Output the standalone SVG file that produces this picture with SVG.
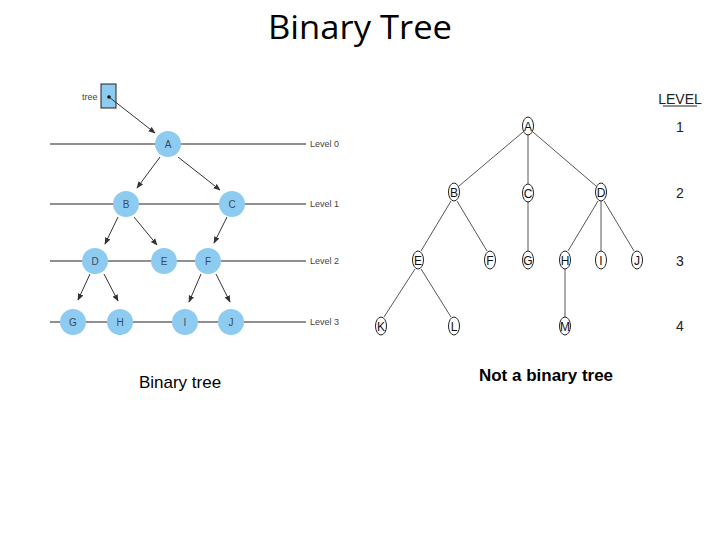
<svg xmlns="http://www.w3.org/2000/svg" width="720" height="540" viewBox="0 0 720 540">
<defs>
<marker id="ah" viewBox="0 0 10 10" refX="9" refY="5" markerWidth="7" markerHeight="7" orient="auto-start-reverse" markerUnits="userSpaceOnUse">
<path d="M0,1 L10,5 L0,9 z" fill="#333"/>
</marker>
<style>
.lvl{stroke:#222;stroke-width:1.2}
.lt{font-family:"Liberation Sans Narrow","Liberation Sans",sans-serif;font-size:9px;fill:#444}
.bn circle{fill:#8ecbf0}
.bn text{font-family:"Liberation Sans Narrow","Liberation Sans",sans-serif;font-size:10px;fill:#3a4a5a;text-anchor:middle}
.arr{stroke:#333;stroke-width:1;fill:none;marker-end:url(#ah)}
.rn ellipse{fill:#fff;stroke:#222;stroke-width:1}
.rn text{font-family:"Liberation Sans Narrow","Liberation Sans",sans-serif;font-size:12px;fill:#111;text-anchor:middle}
.ed{stroke:#444;stroke-width:0.9;fill:none}
.rl{font-family:"Liberation Sans Narrow","Liberation Sans",sans-serif;font-size:14px;fill:#222;text-anchor:middle}
</style>
</defs>
<rect width="720" height="540" fill="#fff"/>
<text x="360" y="39" font-family="'Open Sans','Liberation Sans',sans-serif" font-size="33" fill="#000" text-anchor="middle" textLength="184" lengthAdjust="spacingAndGlyphs">Binary Tree</text>

<g id="levels">
<line class="lvl" x1="50" y1="144" x2="306" y2="144"/>
<line class="lvl" x1="50" y1="204" x2="306" y2="204"/>
<line class="lvl" x1="50" y1="261" x2="306" y2="261"/>
<line class="lvl" x1="50" y1="322" x2="306" y2="322" stroke-width="2.2"/>
<text class="lt" x="310" y="147">Level 0</text>
<text class="lt" x="310" y="207">Level 1</text>
<text class="lt" x="310" y="264">Level 2</text>
<text class="lt" x="310" y="325">Level 3</text>
</g>

<g id="tree-ptr">
<text class="lt" x="82" y="100">tree</text>
<rect x="101" y="84" width="15" height="24" fill="#8ecbf0" stroke="#222" stroke-width="1"/>
<circle cx="109" cy="97" r="1.8" fill="#111"/>
</g>

<g id="connectors-left">
<line class="arr" x1="109" y1="97" x2="155" y2="133"/>
<line class="arr" x1="160" y1="157" x2="137" y2="188"/>
<line class="arr" x1="178" y1="157" x2="220" y2="190"/>
<line class="arr" x1="118" y1="217" x2="105" y2="244"/>
<line class="arr" x1="134" y1="217" x2="157" y2="245"/>
<line class="arr" x1="227" y1="217" x2="214" y2="243"/>
<line class="arr" x1="90" y1="274" x2="78" y2="300"/>
<line class="arr" x1="104" y1="274" x2="118" y2="301"/>
<line class="arr" x1="201" y1="274" x2="189" y2="302"/>
<line class="arr" x1="216" y1="274" x2="230" y2="302"/>
</g>

<g id="nA" class="bn"><circle cx="168" cy="144" r="13"/><text x="168" y="148">A</text></g>
<g id="nB" class="bn"><circle cx="126" cy="204" r="13"/><text x="126" y="208">B</text></g>
<g id="nC" class="bn"><circle cx="232" cy="204" r="13"/><text x="232" y="208">C</text></g>
<g id="nD" class="bn"><circle cx="95" cy="261" r="13"/><text x="95" y="265">D</text></g>
<g id="nE" class="bn"><circle cx="164" cy="261" r="13"/><text x="164" y="265">E</text></g>
<g id="nF" class="bn"><circle cx="208" cy="261" r="13"/><text x="208" y="265">F</text></g>
<g id="nG" class="bn"><circle cx="73" cy="322" r="13"/><text x="73" y="326">G</text></g>
<g id="nH" class="bn"><circle cx="120" cy="322" r="13"/><text x="120" y="326">H</text></g>
<g id="nI" class="bn"><circle cx="185" cy="322" r="13"/><text x="185" y="326">I</text></g>
<g id="nJ" class="bn"><circle cx="231" cy="322" r="13"/><text x="231" y="326">J</text></g>

<g id="connectors-right">
<line class="ed" x1="523" y1="132" x2="459" y2="186"/>
<line class="ed" x1="528" y1="135" x2="528" y2="184"/>
<line class="ed" x1="533" y1="132" x2="596" y2="186"/>
<line class="ed" x1="451" y1="201" x2="421" y2="251"/>
<line class="ed" x1="457" y1="201" x2="487" y2="251"/>
<line class="ed" x1="528" y1="202" x2="528" y2="251" stroke="#aaa"/>
<line class="ed" x1="598" y1="201" x2="568" y2="251"/>
<line class="ed" x1="601" y1="201" x2="601" y2="251" stroke="#aaa"/>
<line class="ed" x1="604" y1="201" x2="634" y2="251"/>
<line class="ed" x1="415" y1="269" x2="384" y2="317"/>
<line class="ed" x1="421" y1="269" x2="451" y2="317"/>
<line class="ed" x1="565" y1="269" x2="565" y2="317" stroke="#111" stroke-width="1.2"/>
</g>

<g id="rA" class="rn"><ellipse cx="528" cy="126" rx="5.5" ry="9"/><text x="528" y="130.5">A</text></g>
<g id="rB" class="rn"><ellipse cx="454" cy="192" rx="5.5" ry="9"/><text x="454" y="196.5">B</text></g>
<g id="rC" class="rn"><ellipse cx="528" cy="193" rx="5.5" ry="9"/><text x="528" y="197.5">C</text></g>
<g id="rD" class="rn"><ellipse cx="601" cy="192" rx="5.5" ry="9"/><text x="601" y="196.5">D</text></g>
<g id="rE" class="rn"><ellipse cx="418" cy="260" rx="5.5" ry="9"/><text x="418" y="264.5">E</text></g>
<g id="rF" class="rn"><ellipse cx="490" cy="260" rx="5.5" ry="9"/><text x="490" y="264.5">F</text></g>
<g id="rG" class="rn"><ellipse cx="528" cy="260" rx="5.5" ry="9"/><text x="528" y="264.5">G</text></g>
<g id="rH" class="rn"><ellipse cx="565" cy="260" rx="5.5" ry="9"/><text x="565" y="264.5">H</text></g>
<g id="rI" class="rn"><ellipse cx="601" cy="260" rx="5.5" ry="9"/><text x="601" y="264.5">I</text></g>
<g id="rJ" class="rn"><ellipse cx="637" cy="260" rx="5.5" ry="9"/><text x="637" y="264.5">J</text></g>
<g id="rK" class="rn"><ellipse cx="381" cy="326" rx="5.5" ry="9"/><text x="381" y="330.5">K</text></g>
<g id="rL" class="rn"><ellipse cx="454" cy="326" rx="5.5" ry="9"/><text x="454" y="330.5">L</text></g>
<g id="rM" class="rn"><ellipse cx="565" cy="326" rx="5.5" ry="9"/><text x="565" y="330.5">M</text></g>

<g id="right-levels">
<text class="rl" x="680" y="104" font-size="12">LEVEL</text>
<line x1="663" y1="106" x2="697" y2="106" stroke="#222" stroke-width="1.2"/>
<text class="rl" x="680" y="132">1</text>
<text class="rl" x="680" y="198">2</text>
<text class="rl" x="680" y="266">3</text>
<text class="rl" x="680" y="331">4</text>
</g>

<text x="180" y="388" font-family="'Liberation Sans',sans-serif" font-size="17" fill="#000" text-anchor="middle">Binary tree</text>
<text x="546" y="381" font-family="'Liberation Sans',sans-serif" font-size="17" font-weight="bold" fill="#000" text-anchor="middle">Not a binary tree</text>
</svg>
